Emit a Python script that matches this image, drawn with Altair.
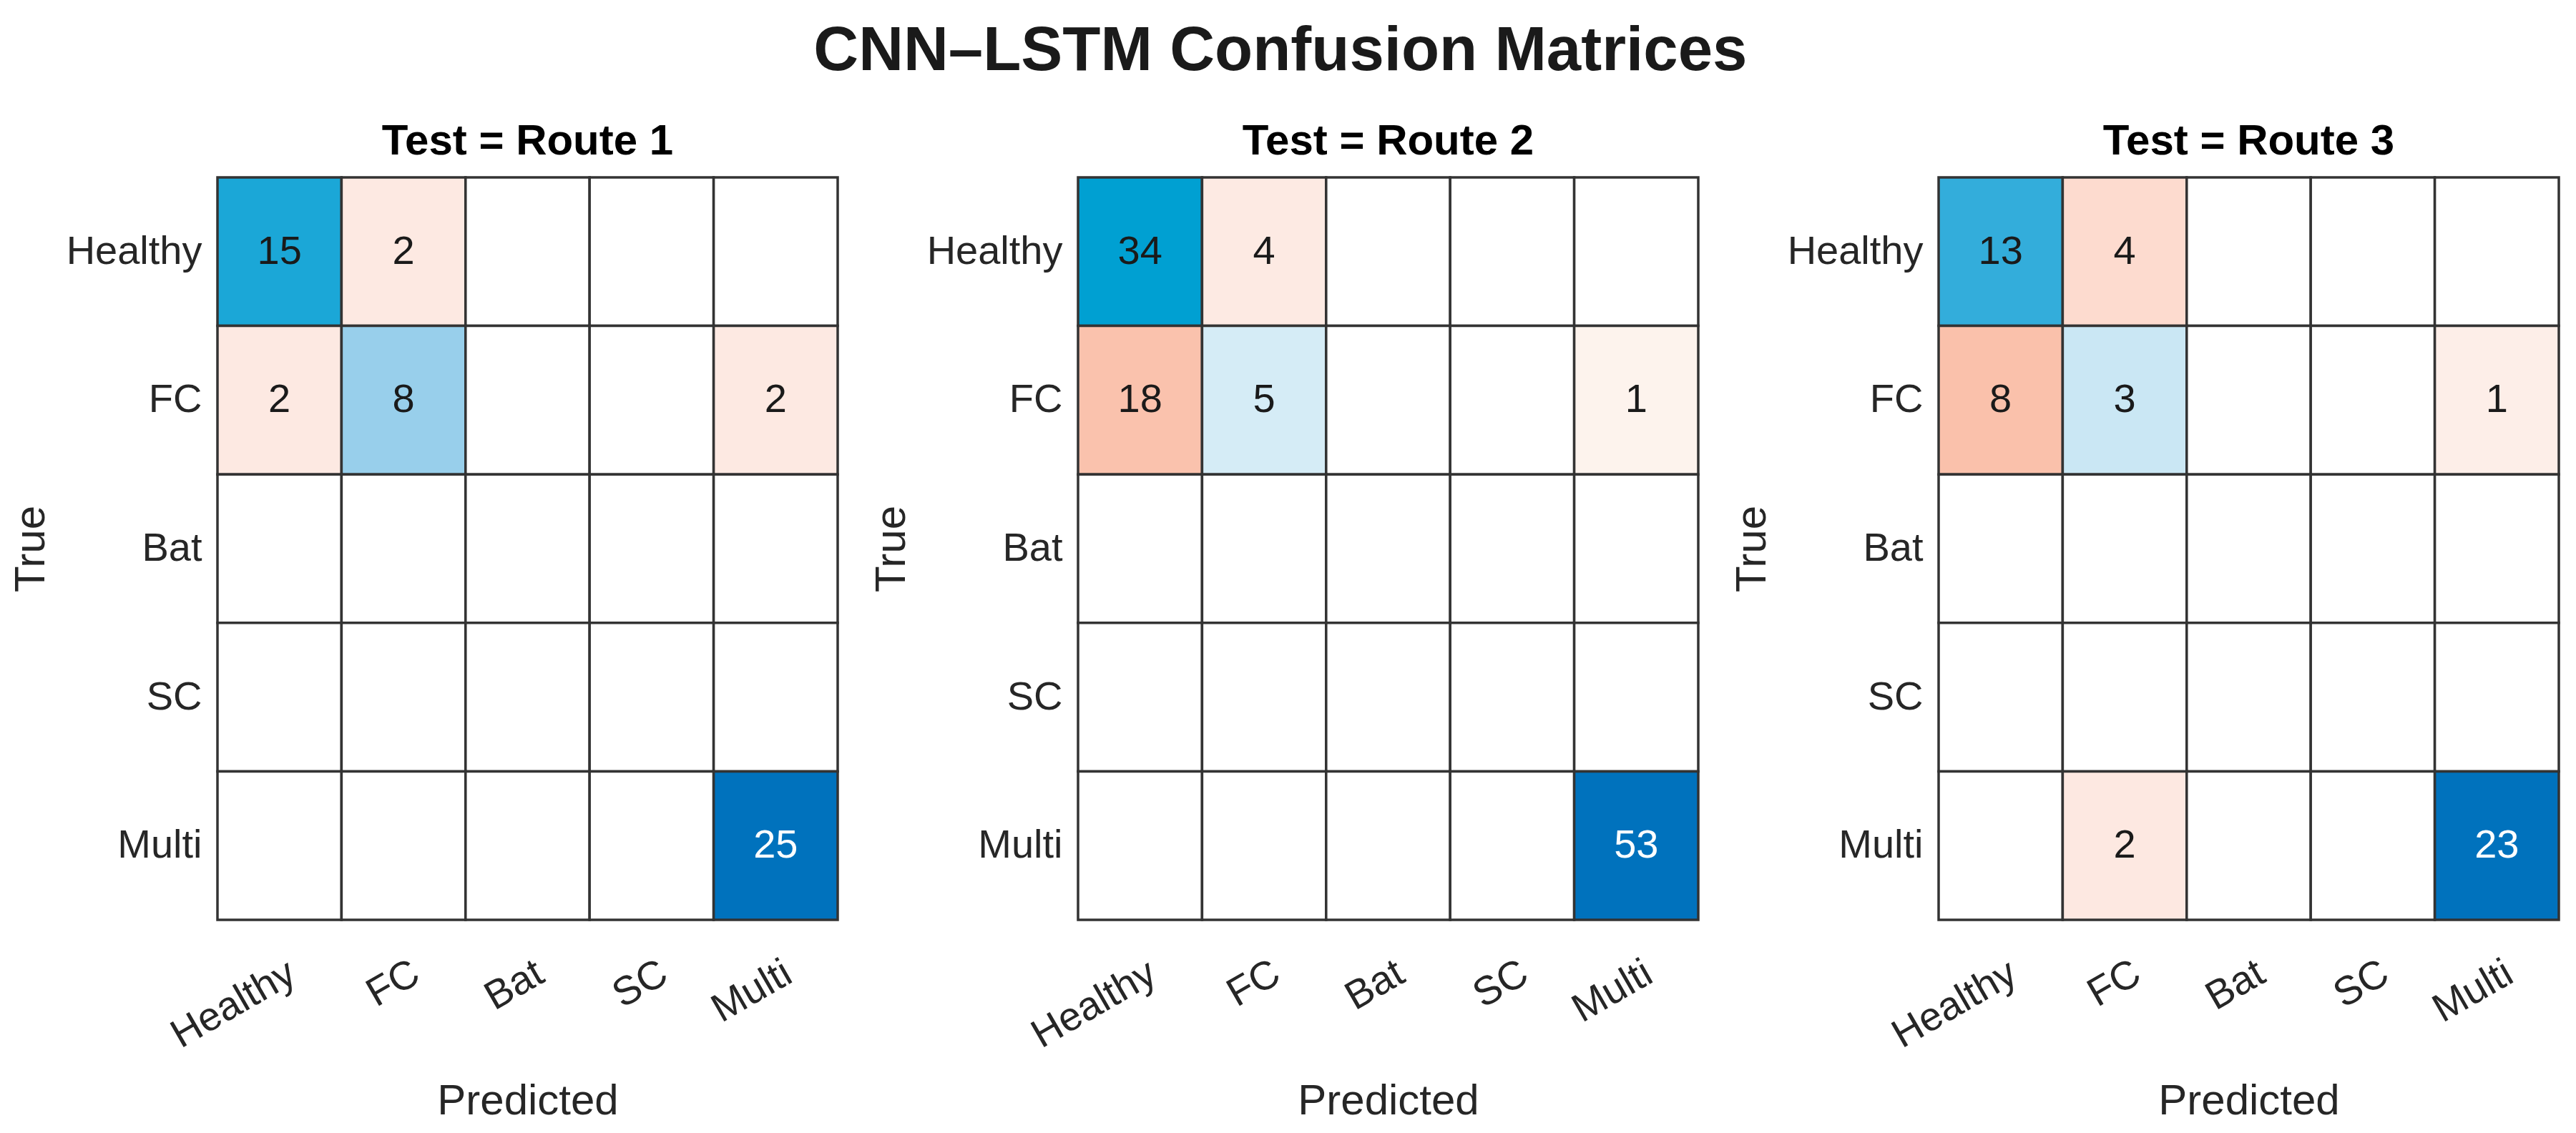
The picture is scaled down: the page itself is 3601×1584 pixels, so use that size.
import altair as alt
import pandas as pd

classes = ["Healthy", "FC", "Bat", "SC", "Multi"]
route_names = ["Route 1", "Route 2", "Route 3"]

route1_counts = [
    [15, 2, 0, 0, 0],
    [2, 8, 0, 0, 2],
    [0, 0, 0, 0, 0],
    [0, 0, 0, 0, 0],
    [0, 0, 0, 0, 25],
]
route2_counts = [
    [34, 4, 0, 0, 0],
    [18, 5, 0, 0, 1],
    [0, 0, 0, 0, 0],
    [0, 0, 0, 0, 0],
    [0, 0, 0, 0, 53],
]
route3_counts = [
    [13, 4, 0, 0, 0],
    [8, 3, 0, 0, 1],
    [0, 0, 0, 0, 0],
    [0, 0, 0, 0, 0],
    [0, 2, 0, 0, 23],
]
matrices = [route1_counts, route2_counts, route3_counts]

rows = []
for name, m in zip(route_names, matrices):
    mx = max(max(r) for r in m)
    for i, t in enumerate(classes):
        for j, p in enumerate(classes):
            v = m[i][j]
            level = v / mx if i == j else -v / mx
            rows.append(dict(route=name, true=t, pred=p, value=v, level=level))
df = pd.DataFrame(rows)

color_domain = [-1, -0.34, -0.17, -0.08, -0.02, 0, 0.1, 0.32, 0.565, 0.64, 1]
color_range = ["#d95319", "#fac2ad", "#fddcd0", "#fde9e2", "#fdf2ec", "#ffffff",
               "#d2ebf5", "#98cfeb", "#33addb", "#00a0d2", "#0072bd"]

FONT = "Liberation Sans"
INK = "#262626"


def panel(name):
    base = alt.Chart(df[df.route == name])
    x = alt.X("pred:N", sort=classes,
              scale=alt.Scale(domain=classes, paddingInner=0, paddingOuter=0),
              axis=alt.Axis(title="Predicted", labelAngle=330, labelAlign="right",
                            labelBaseline="middle", labelPadding=70, labelOffset=18,
                            labelLimit=0, ticks=False, domain=False, titlePadding=35))
    y = alt.Y("true:N", sort=classes,
              scale=alt.Scale(domain=classes, paddingInner=0, paddingOuter=0),
              axis=alt.Axis(title="True", ticks=False, domain=False, labelLimit=0,
                            labelPadding=22, titlePadding=30))
    rect = base.mark_rect(stroke="#333333", strokeWidth=3.5).encode(
        x=x, y=y,
        color=alt.condition(
            alt.datum.value == 0,
            alt.value("#ffffff"),
            alt.Color("level:Q",
                      scale=alt.Scale(domain=color_domain, range=color_range,
                                      interpolate="rgb"),
                      legend=None),
        ),
    )
    text = base.transform_filter(alt.datum.value > 0).mark_text(
        font=FONT, fontSize=56).encode(
        x=x, y=y, text="value:Q",
        color=alt.condition(alt.datum.level > 0.8, alt.value("#ffffff"), alt.value("#1a1a1a")),
    )
    return alt.layer(rect, text).properties(
        width=867, height=1038,
        title=alt.TitleParams(f"Test = {name}", fontSize=60, fontWeight="bold",
                              offset=17, color="#000000"),
    )


chart = alt.hconcat(*[panel(n) for n in route_names], spacing=43).properties(
    title=alt.TitleParams("CNN–LSTM Confusion Matrices", fontSize=87, fontWeight="bold",
                          anchor="middle", offset=52, dx=-6, color="#1a1a1a"),
    padding={"left": 5, "top": 20, "right": 5, "bottom": 0},
).configure_view(stroke=None).configure_axis(
    labelFont=FONT, titleFont=FONT, labelFontSize=56, titleFontSize=60,
    labelColor=INK, titleColor=INK, titleFontWeight="normal",
).configure_title(font=FONT)

chart.save("out.html", embed_options={"renderer": "svg", "actions": False})
